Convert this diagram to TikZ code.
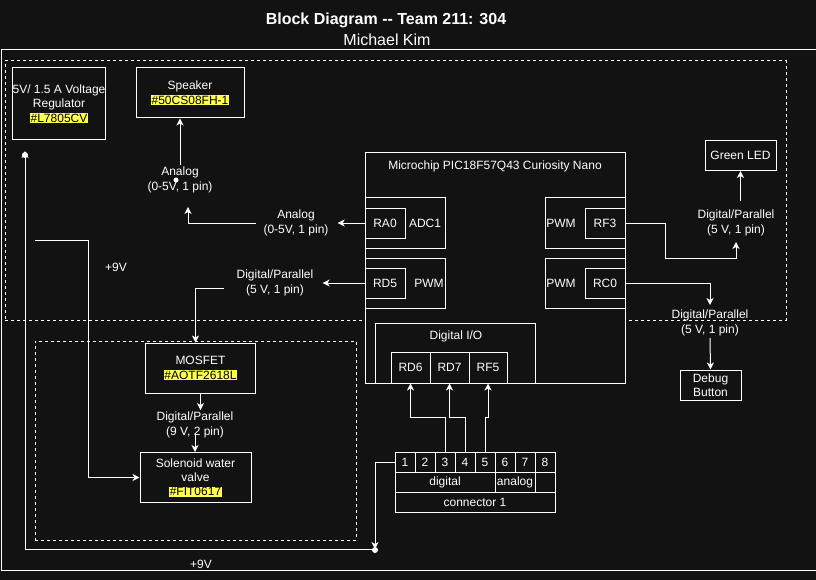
\documentclass[tikz,border=0pt]{standalone}
\usepackage{fontspec}
\setmainfont{Liberation Sans}
\usepackage{xcolor}
\usepackage{tikz}
\usetikzlibrary{arrows.meta,positioning,calc}
\definecolor{night}{RGB}{18,18,18}
\definecolor{hlyellow}{RGB}{255,255,77}
\newcommand{\partno}[1]{{\setlength{\fboxsep}{0.6pt}\colorbox{hlyellow}{\textcolor{black}{#1}}}}

\begin{document}
\begin{tikzpicture}[
  x=1pt, y=-1pt,
  font=\fontsize{12}{14.4}\selectfont,
  box/.style={draw=white, fill=night, text=white, align=center, inner sep=0pt, line width=1pt},
  pinbox/.style={box, minimum width=40pt, minimum height=30pt},
  grp/.style={draw=white, line width=1pt, dash pattern=on 3pt off 3pt, inner sep=0pt},
  lbl/.style={text=white, align=center, inner sep=2pt},
  arr/.style={-{Stealth[length=7pt,width=7pt,inset=2pt]}, white, line width=1pt},
  junc/.style={circle, fill=white, inner sep=0pt, minimum size=6pt},
]
\useasboundingbox (0,0) rectangle (816,580);
\clip (0,0) rectangle (816,580);
\fill[night] (0,0) rectangle (816,580);
% title
\node[text=white, font=\fontsize{16}{19}\selectfont\bfseries, anchor=base] (title) at (386,25) {Block Diagram -{}- Team 211: 304};
\node[text=white, font=\fontsize{16}{19}\selectfont, anchor=base] (author) at (387,46) {Michael Kim};
\draw[white, line width=1pt] (1,50) rectangle (830,570);
% groups
\node[grp, minimum width=781pt, minimum height=259pt] (upper) at (395.5,190.5) {};
\node[grp, minimum width=321pt, minimum height=199pt] (lower) at (195.5,440.5) {};
% left side parts
\node[box, minimum width=90pt, minimum height=72pt] (reg) at (59,104) {5V/ 1.5 A Voltage\\Regulator\\\partno{\#L7805CV}};
\node[box, minimum width=108pt, minimum height=50pt] (spk) at (190,93) {Speaker\\\partno{\#50CS08FH-1}};
\node[box, minimum width=110pt, minimum height=50pt] (mosfet) at (200.5,368) {MOSFET\\\partno{\#AOTF2618L}};
\node[box, minimum width=111pt, minimum height=50pt] (sol) at (195.5,477.5) {Solenoid water\\valve\\\partno{\#FIT0617}};
% microcontroller
\node[box, minimum width=260pt, minimum height=230pt] (chip) at (495,268) {};
\node[lbl] (chipname) at (495,166) {Microchip PIC18F57Q43 Curiosity Nano};
\node[box, minimum width=80pt, minimum height=50pt] (adc) at (405,223) {};
\node[pinbox] (ra0) at (385,223) {RA0};
\node[lbl] (adcname) at (425,223) {ADC1};
\node[box, minimum width=80pt, minimum height=50pt] (pwml) at (405,283) {};
\node[pinbox] (rd5) at (385,283) {RD5};
\node[lbl] (pwmlname) at (429,283) {PWM};
\node[box, minimum width=80pt, minimum height=50pt] (pwmr) at (585,223) {};
\node[pinbox] (rf3) at (605,223) {RF3};
\node[lbl] (pwmrname) at (561,223) {PWM};
\node[box, minimum width=80pt, minimum height=50pt] (pwmc) at (585,283) {};
\node[pinbox] (rc0) at (605,283) {RC0};
\node[lbl] (pwmcname) at (561,283) {PWM};
\node[box, minimum width=160pt, minimum height=60pt] (dio) at (455,353) {};
\node[lbl] (dioname) at (456,336) {Digital I/O};
\node[box, minimum width=39pt, minimum height=31pt] (rd6) at (410.5,367.5) {RD6};
\node[box, minimum width=39pt, minimum height=31pt] (rd7) at (449.5,367.5) {RD7};
\node[box, minimum width=38pt, minimum height=31pt] (rf5) at (488,367.5) {RF5};
% connector 1
\foreach \i in {1,...,8}
  \node[box, minimum width=20pt, minimum height=20pt] (p\i) at (385+20*\i,462) {\i};
\node[box, minimum width=100pt, minimum height=20pt] (dig) at (445,482) {digital};
\node[box, minimum width=40pt, minimum height=20pt] (ana) at (515,482) {analog};
\node[box, minimum width=20pt, minimum height=20pt] (spare) at (545,482) {};
\node[box, minimum width=160pt, minimum height=20pt] (con) at (475,502) {connector 1};
% right side parts
\node[box, minimum width=71pt, minimum height=30pt] (led) at (740.5,155.5) {Green LED};
\node[box, minimum width=61pt, minimum height=30pt] (dbg) at (710.5,385) {Debug\\Button};
% edge labels
\node[lbl] (an1) at (296,223) {Analog\\(0-5V, 1 pin)};
\node[lbl] (an2) at (180,180) {Analog\\(0-5V, 1 pin)};
\node[junc, minimum size=5pt] (an2dot) at (176,180) {};
\node[lbl] (dp1) at (275,283) {Digital/Parallel\\(5 V, 1 pin)};
\node[lbl] (dp9) at (195,425) {Digital/Parallel\\(9 V, 2 pin)};
\node[lbl] (dpr1) at (736,223) {Digital/Parallel\\(5 V, 1 pin)};
\node[lbl] (dpr2) at (710,323) {Digital/Parallel\\(5 V, 1 pin)};
\node[lbl] (v9a) at (116,267) {+9V};
\node[lbl] (v9b) at (201,564) {+9V};
% supply points
\coordinate (j9) at (375,549);
\coordinate (j5) at (25,151);
\coordinate (v9) at (35,240);
% signals
\draw[arr] (ra0.west) -- ($(an1.east)+(7,0)$);
\draw[arr] ($(an1.west)+(-5,0)$) -| ($(an2.south)+(8,12)$);
\draw[arr] (an2.north) -- (an2.north |- spk.south);
\draw[arr] (rd5.west) -- ($(dp1.east)+(7,0)$);
\draw[arr] ($(dp1.west)+(-10,5)$) -| ($(mosfet.north)+(-5,0)$);
\draw[arr] (mosfet.south) -- (mosfet.south |- dp9.north);
\draw[arr] ($(dp9.center)+(0,8)$) -- (dp9.center |- sol.north);
\draw[arr] (rf3.east) -- ++(40,0) -- ++(0,35) -| ($(dpr1.south)+(0,4)$);
\draw[arr] ($(led.south |- dpr1.north)+(0,-7)$) -- (led.south);
\draw[arr] (rc0.east) -| ($(dpr2.north)+(0,-3)$);
\draw[arr] (dpr2.south) -- (dbg.north);
\draw[arr] (p3.north) -- ++(0,-34) -| (rd6.south);
\draw[arr] (p4.north) -- ++(0,-34) -| (rd7.south);
\draw[arr] (p5.north) -- ++(0,-34) -| (rf5.south);
% +9V supply
\draw[arr] (p1.west) -| (j9);
\node[junc] (d9) at (375,550) {};
\draw[arr] (j9) -| (j5);
\node[junc] (d5) at (25,155) {};
\draw[arr] (v9) -- ++(53,0) |- (sol.west);
\end{tikzpicture}
\end{document}
